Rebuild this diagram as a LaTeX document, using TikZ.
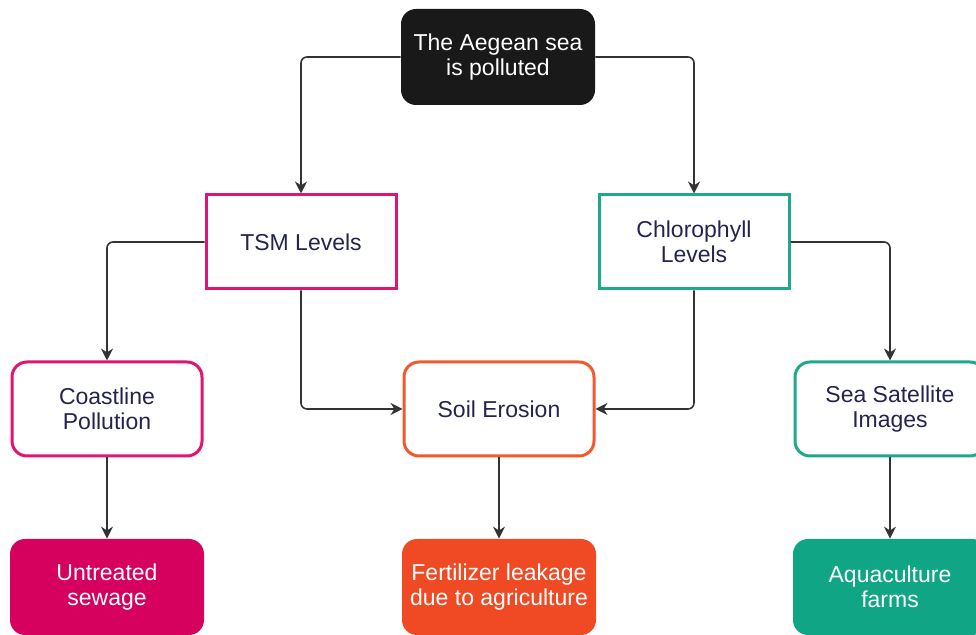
\documentclass[tikz,border=0pt]{standalone}
\usepackage{fontspec}
\setmainfont{Liberation Sans}
\usetikzlibrary{arrows.meta}

\definecolor{inktext}{HTML}{25244F}
\definecolor{pinkline}{HTML}{DF1473}
\definecolor{pinkfill}{HTML}{D6005F}
\definecolor{orangeline}{HTML}{F15A2E}
\definecolor{orangefill}{HTML}{F04A24}
\definecolor{tealline}{HTML}{1DA98A}
\definecolor{tealfill}{HTML}{10A585}
\definecolor{linkgray}{HTML}{333333}

\begin{document}
\begin{tikzpicture}[x=0.5pt,y=-0.5pt,
  every node/.style={font=\fontsize{11.5}{12.6}\selectfont, align=center},
  box/.style={draw, line width=1.5pt, minimum width=95pt, minimum height=47pt, text=inktext, fill=white},
  roundbox/.style={box, rounded corners=7.5pt},
  solidbox/.style={rounded corners=7.5pt, minimum width=97pt, minimum height=48pt, text=white},
  link/.style={draw=linkgray, line width=0.8pt, rounded corners=3pt, -{Stealth[length=6pt,width=6pt]}}
]
\useasboundingbox (0,0) rectangle (976,635);

% top
\node[solidbox, fill=black!90] (sea) at (498,57) {The Aegean sea\\is polluted};

% middle row
\node[box, draw=pinkline] (tsm) at (301,242) {TSM Levels};
\node[box, draw=tealline] (chl) at (694,242) {Chlorophyll\\Levels};

% causes
\node[roundbox, draw=pinkline] (coast) at (107,409) {Coastline\\Pollution};
\node[roundbox, draw=orangeline] (soil) at (499,409) {Soil Erosion};
\node[roundbox, draw=tealline] (sat) at (890,409) {Sea Satellite\\Images};

% sources
\node[solidbox, fill=pinkfill] (sew) at (107,587) {Untreated\\sewage};
\node[solidbox, fill=orangefill] (fert) at (499,587) {Fertilizer leakage\\due to agriculture};
\node[solidbox, fill=tealfill] (aqua) at (890,587) {Aquaculture\\farms};

\draw[link] (sea.west) -| (tsm.north);
\draw[link] (sea.east) -| (chl.north);
\draw[link] (tsm.west) -| (coast.north);
\draw[link] (tsm.south) |- (soil.west);
\draw[link] (chl.south) |- (soil.east);
\draw[link] (chl.east) -| (sat.north);
\draw[link] (coast) -- (sew);
\draw[link] (soil) -- (fert);
\draw[link] (sat) -- (aqua);
\end{tikzpicture}
\end{document}
